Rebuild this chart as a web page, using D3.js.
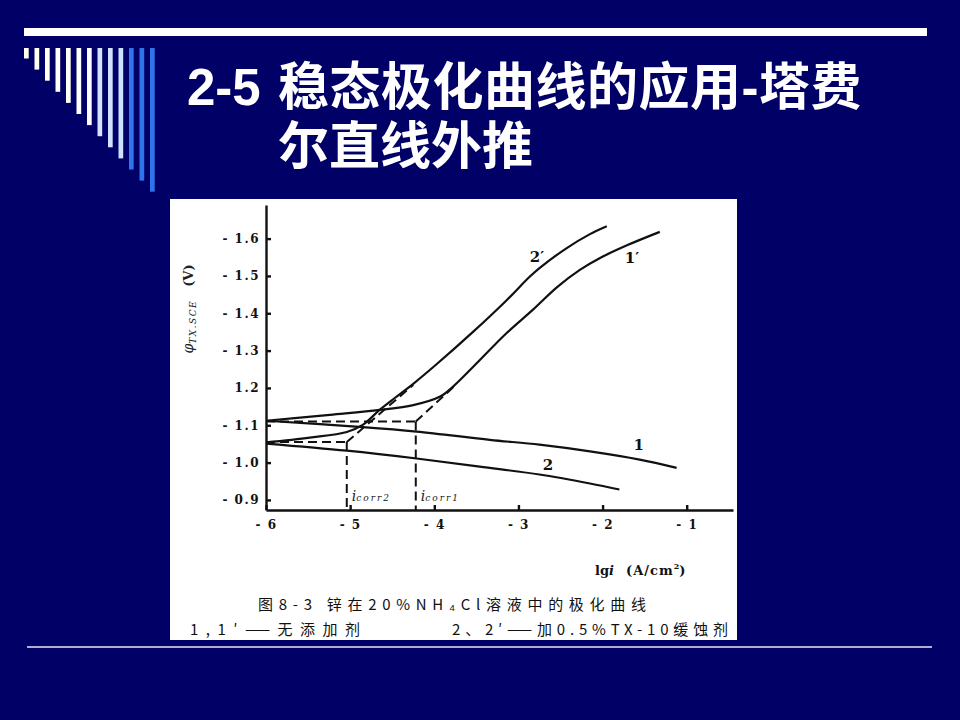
<!DOCTYPE html>
<html>
<head>
<meta charset="utf-8">
<script src="https://cdn.jsdelivr.net/npm/d3@7.9.0/dist/d3.min.js"></script>
<style>
  body { margin: 0; background: #000066; }
  svg { display: block; }
  .tick text { font-family: "DejaVu Serif", serif; font-weight: bold; font-size: 12px; letter-spacing: 1.5px; fill: #111; }
  .axis path, .axis line { stroke: #111; stroke-width: 2.4; }
  .curve { fill: none; stroke: #111; stroke-width: 2.2; }
  .dash { fill: none; stroke: #111; stroke-width: 2; stroke-dasharray: 9 5; }
</style>
</head>
<body>
<svg id="slide" width="960" height="720"></svg>
<script>
// lg i (A/cm2) and potential (V vs SCE)
const lg1 = [-6.0, -4.85, -4.21, -3.34, -2.75, -2.15, -1.56, -1.12];
const phi1 = [-1.112, -1.095, -1.083, -1.061, -1.048, -1.030, -1.008, -0.986];

const lg2 = [-6.0, -5.04, -4.21, -3.46, -2.75, -2.15, -1.80];
const phi2 = [-1.051, -1.032, -1.011, -0.989, -0.968, -0.944, -0.928];

const lg1p = [-6.0, -5.24, -4.65, -4.25, -3.93, -3.78, -3.54, -3.14, -2.83, -2.54, -2.27, -2.03, -1.71, -1.32];
const phi1p = [-1.112, -1.128, -1.141, -1.154, -1.177, -1.203, -1.256, -1.347, -1.409, -1.470, -1.516, -1.548, -1.582, -1.618];

const lg2p = [-6.0, -5.48, -5.04, -4.85, -4.65, -4.47, -4.25, -3.97, -3.54, -3.14, -2.87, -2.75, -2.43, -2.15, -1.95];
const phi2p = [-1.054, -1.067, -1.082, -1.101, -1.141, -1.173, -1.211, -1.264, -1.350, -1.435, -1.497, -1.521, -1.574, -1.612, -1.633];

// Tafel extrapolation: corrosion potential / current, end of extrapolated line
const eCorr = [-1.11, -1.055];
const iCorr = [-4.22, -5.04];
const tafelEnd = [[-3.76, -1.205], [-4.25, -1.208]];
const iCorrNames = ['corr1', 'corr2'];

const curveNames = ['1', '2', "1\u2032", "2\u2032"];
const curveLabelAt = [[-1.57, -1.047], [-2.65, -0.994], [-1.65, -1.548], [-2.78, -1.551]];

const xTicks = [-6, -5, -4, -3, -2, -1];
const xTickLabels = ['- 6', '- 5', '- 4', '- 3', '- 2', '- 1'];
const yTicks = [-1.6, -1.5, -1.4, -1.3, -1.2, -1.1, -1.0, -0.9];
const yTickLabels = ['- 1.6', '- 1.5', '- 1.4', '- 1.3', '1.2', '- 1.1', '- 1.0', '- 0.9'];

const svg = d3.select('#slide');

// slide background and decoration
svg.append('rect').attr('width', 960).attr('height', 720).attr('fill', '#000066');
svg.append('rect').attr('x', 24).attr('y', 28).attr('width', 903).attr('height', 8).attr('fill', '#ffffff');

const barColors = ['#fffff0', '#fffff0', '#fffff4', '#fffff6', '#fffff8', '#fffffa', '#fdfdff',
  '#d4e4ff', '#d0e2ff', '#cce0ff', '#2f74e8', '#2f74e8', '#2f74e8'];
svg.append('g').selectAll('rect')
  .data(barColors)
  .enter()
  .append('rect')
  .attr('x', (_, i) => 24 + i * 10.5)
  .attr('y', 48)
  .attr('width', 4.7)
  .attr('height', (_, i) => 10.5 + i * 11.1)
  .attr('fill', d => d);

// title: second line hangs under the Chinese words
const title = svg.append('g')
  .attr('fill', '#ffffff')
  .attr('font-weight', 'bold')
  .attr('font-size', 51)
  .attr('font-family', '"Liberation Sans", "Noto Sans CJK SC", sans-serif');
const t1 = title.append('text').attr('x', 187).attr('y', 105);
t1.append('tspan').text('2-5');
t1.append('tspan').attr('x', 278).attr('letter-spacing', 0.5).text('稳态极化曲线的应用-塔费');
title.append('text').attr('x', 278).attr('y', 164).text('尔直线外推');

svg.append('line')
  .attr('x1', 27).attr('x2', 932).attr('y1', 647).attr('y2', 647)
  .attr('stroke', '#e8e8f0').attr('stroke-width', 1.5);

// scanned figure panel
svg.append('rect').attr('x', 170).attr('y', 199).attr('width', 567).attr('height', 441).attr('fill', '#ffffff');

const x = d3.scaleLinear().domain([-6, -0.45]).range([266, 733]);
const y = d3.scaleLinear().domain([-0.873, -1.69]).range([510, 205]);

svg.append('g')
  .attr('class', 'axis')
  .attr('transform', 'translate(0,510)')
  .call(d3.axisBottom(x).tickValues(xTicks)
    .tickFormat((d, i) => xTickLabels[i])
    .tickSizeInner(-5).tickSizeOuter(0).tickPadding(10));

svg.append('g')
  .attr('class', 'axis')
  .attr('transform', 'translate(266,0)')
  .call(d3.axisLeft(y).tickValues(yTicks)
    .tickFormat((d, i) => yTickLabels[i])
    .tickSizeInner(-5).tickSizeOuter(0).tickPadding(6));

// axis titles
const yLab = svg.append('text')
  .attr('transform', 'translate(193,309) rotate(-90)')
  .attr('text-anchor', 'middle')
  .attr('font-family', '"DejaVu Serif", serif')
  .attr('fill', '#222');
yLab.append('tspan').attr('font-style', 'italic').attr('font-size', 14).text('φ');
yLab.append('tspan').attr('font-style', 'italic').attr('font-size', 9).attr('dy', 3).attr('letter-spacing', 1.5).text('TX.SCE');
yLab.append('tspan').attr('font-weight', 'bold').attr('font-size', 13).attr('dy', -3).text('\u2003(V)');

const xLab = svg.append('text')
  .attr('x', 595).attr('y', 575)
  .attr('font-family', '"DejaVu Serif", serif')
  .attr('font-weight', 'bold')
  .attr('font-size', 13)
  .attr('fill', '#111');
xLab.append('tspan').text('lg');
xLab.append('tspan').attr('font-style', 'italic').text('i');
xLab.append('tspan').attr('x', 626).attr('letter-spacing', 1).text('(A/cm');
xLab.append('tspan').attr('font-size', 8).attr('dy', -6).text('2');
xLab.append('tspan').attr('dy', 6).text(')');

// polarisation curves
const smooth = d3.line()
  .x(d => x(d[0]))
  .y(d => y(d[1]))
  .curve(d3.curveCatmullRom.alpha(0.5));
const straight = d3.line()
  .x(d => x(d[0]))
  .y(d => y(d[1]));

const series = [d3.zip(lg1, phi1), d3.zip(lg2, phi2), d3.zip(lg1p, phi1p), d3.zip(lg2p, phi2p)];

svg.append('g')
  .selectAll('path')
  .data(series)
  .enter()
  .append('path')
  .attr('class', 'curve')
  .attr('d', smooth);

svg.append('g')
  .selectAll('text')
  .data(curveNames)
  .enter()
  .append('text')
  .attr('x', (_, i) => x(curveLabelAt[i][0]))
  .attr('y', (_, i) => y(curveLabelAt[i][1]))
  .attr('dy', '0.35em')
  .attr('text-anchor', 'middle')
  .attr('font-family', '"DejaVu Serif", serif')
  .attr('font-weight', 'bold')
  .attr('font-size', 15)
  .attr('fill', '#111')
  .text(d => d);

// Tafel extrapolation (dashed)
const dashG = svg.append('g');
eCorr.forEach((e, k) => {
  const ic = iCorr[k];
  dashG.append('path').attr('class', 'dash')
    .attr('d', straight([[-6, e], [ic, e]]));
  dashG.append('path').attr('class', 'dash')
    .attr('stroke-dasharray', '12 6')
    .attr('d', straight([[ic, e], [ic, y.domain()[0]]]));
  dashG.append('path').attr('class', 'dash')
    .attr('d', straight([[ic, e], tafelEnd[k]]));
  const t = dashG.append('text')
    .attr('x', x(ic) + 5).attr('y', 501)
    .attr('font-family', '"DejaVu Serif", serif')
    .attr('font-style', 'italic')
    .attr('fill', '#222');
  t.append('tspan').attr('font-size', 14).text('i');
  t.append('tspan').attr('font-size', 9).attr('letter-spacing', 2).text(iCorrNames[k]);
});

// figure caption
const cap = svg.append('g')
  .attr('font-family', '"Noto Sans CJK SC", sans-serif')
  .attr('font-size', 15)
  .attr('fill', '#111');
cap.append('text').attr('x', 258).attr('y', 610)
  .attr('textLength', 388).attr('lengthAdjust', 'spacing')
  .text('图8-3  锌在20%NH\u2084Cl溶液中的极化曲线');
cap.append('text').attr('x', 190).attr('y', 635)
  .attr('textLength', 170).attr('lengthAdjust', 'spacing')
  .text('1,1\u2032——无添加剂');
cap.append('text').attr('x', 452).attr('y', 635)
  .attr('textLength', 276).attr('lengthAdjust', 'spacing')
  .text('2、2\u2032——加0.5%TX-10缓蚀剂');
</script>
</body>
</html>
